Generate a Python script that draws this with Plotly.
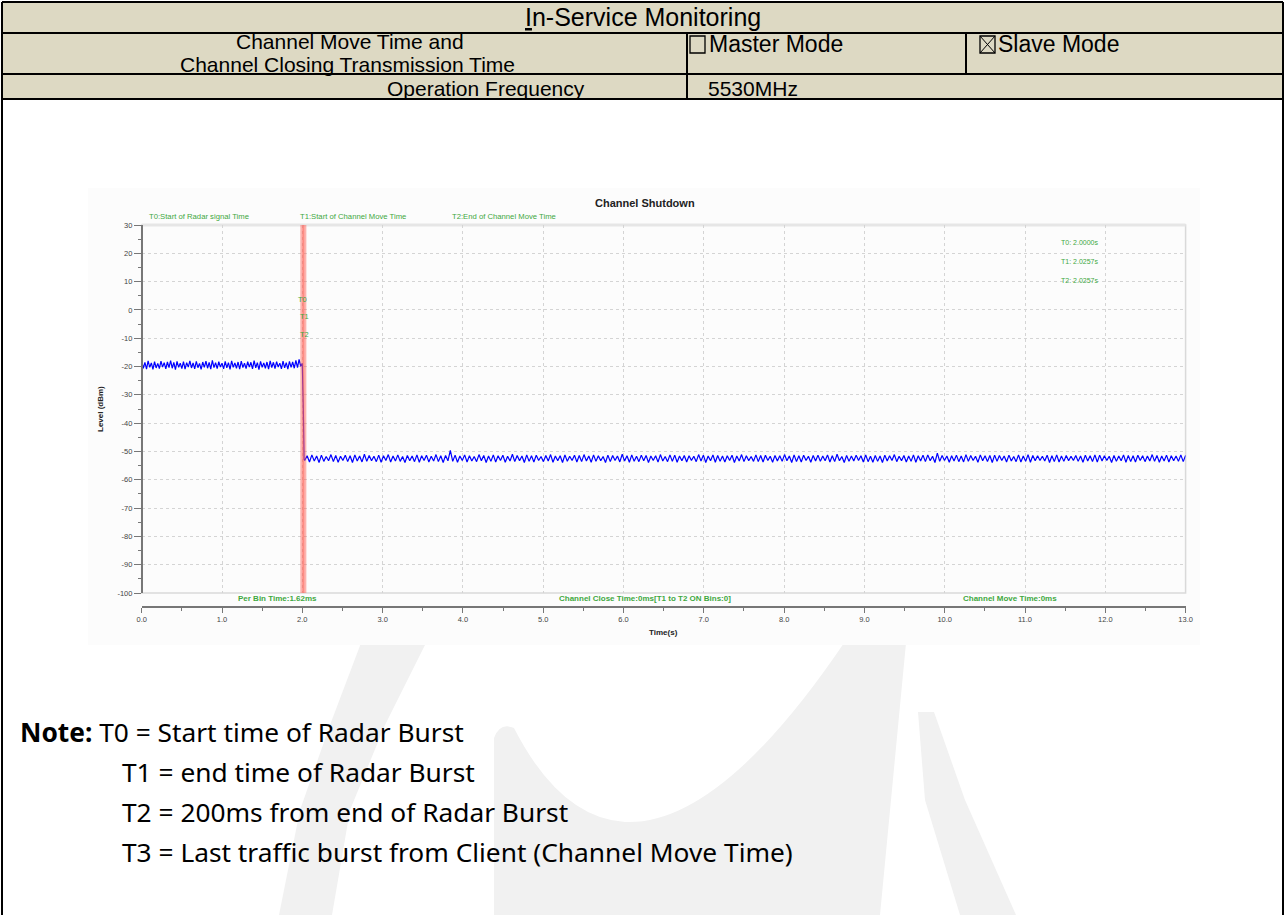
import plotly.graph_objects as go
import numpy as np

W, H = 1285, 915

# ---------------- data ----------------
pre_level = [
    -18.2, -20.6, -18.5, -20.9, -18.0, -20.3, -18.7, -21.0, -18.3, -20.5,
    -18.9, -20.7, -18.1, -20.2, -18.6, -20.8, -18.4, -20.4, -17.9, -20.6,
    -18.5, -21.1, -18.2, -20.3, -18.8, -20.7, -18.3, -20.9, -18.6, -20.2,
    -18.0, -20.5, -18.7, -20.8, -18.2, -20.4, -18.9, -21.0, -18.4, -20.3,
    -18.1, -20.6, -18.5, -20.9, -17.8, -20.4, -18.6, -20.7, -18.3, -20.2,
    -18.8, -20.8, -18.2, -20.5, -18.6, -21.0, -18.0, -20.3, -18.7, -20.6,
    -18.4, -20.9, -18.1, -20.4, -18.8, -20.7, -18.3, -20.2, -18.5, -20.8,
    -17.9, -20.5, -18.6, -21.1, -18.2, -20.3, -18.7, -20.6, -18.4, -20.9,
    -18.0, -20.4, -18.5, -20.7, -18.3, -20.2, -18.8, -20.8, -18.1, -20.5,
    -18.6, -20.9, -18.2, -20.3, -18.4, -20.6, -17.8, -20.4, -17.5, -19.9, -18.9,
]

transition_time = [2.000, 2.004, 2.012, 2.022, 2.030]
transition_level = [-18.9, -33.0, -33.6, -52.8, -53.0]

post_level = [
    -53.2, -51.5, -53.7, -51.2, -53.4, -51.6, -53.9, -51.3, -53.5, -51.8,
    -53.3, -51.1, -53.6, -51.4, -53.8, -51.7, -53.2, -51.3, -53.6, -51.5,
    -53.9, -51.2, -53.4, -51.6, -53.7, -51.0, -53.5, -51.4, -53.3, -51.7,
    -53.6, -51.3, -53.8, -51.5, -53.2, -51.1, -53.7, -51.6, -53.4, -51.2,
    -53.5, -51.8, -53.9, -51.4, -53.3, -51.6, -53.6, -51.2, -53.8, -51.5,
    -53.2, -51.3, -53.7, -51.7, -53.4, -51.1, -53.6, -51.5, -53.9, -51.4,
    -53.3, -49.6, -53.5, -51.3, -53.8, -51.6, -53.2, -51.2, -53.7, -51.5,
    -53.4, -51.8, -53.6, -51.1, -53.3, -51.4, -53.9, -51.6, -53.5, -51.2,
    -53.7, -51.5, -53.2, -51.3, -53.8, -51.7, -53.4, -51.0, -53.6, -51.4,
    -53.3, -51.6, -53.9, -51.2, -53.5, -51.5, -53.7, -51.3, -53.2, -51.8,
    -53.6, -51.4, -53.4, -51.1, -53.8, -51.6, -53.3, -51.5, -53.9, -51.2,
    -53.5, -51.7, -53.2, -51.3, -53.7, -51.4, -53.6, -51.1, -53.4, -51.6,
    -53.8, -51.2, -53.5, -51.5, -53.3, -51.8, -53.9, -51.3, -53.6, -51.4,
    -53.2, -51.6, -53.7, -51.0, -53.4, -51.5, -53.8, -51.2, -53.5, -51.7,
    -53.6, -51.3, -53.3, -51.4, -53.9, -51.6, -53.2, -51.5, -53.7, -51.1,
    -53.4, -51.8, -53.6, -51.2, -53.5, -51.3, -53.8, -51.6, -53.3, -51.4,
    -53.7, -51.5, -53.2, -51.7, -53.6, -51.1, -53.4, -51.3, -53.9, -51.6,
    -53.3, -51.2, -53.8, -51.4, -53.5, -51.6, -53.7, -51.5, -53.2, -51.3,
    -53.9, -51.6, -53.4, -51.1, -53.6, -51.5, -53.3, -51.8, -53.5, -51.2,
    -53.6, -51.4, -53.7, -51.3, -53.2, -51.7, -53.8, -51.4, -53.4, -51.5,
    -53.5, -51.1, -53.3, -51.6, -53.9, -51.2, -53.6, -51.5, -53.7, -51.3,
    -53.2, -51.7, -53.8, -51.4, -53.4, -51.3, -53.5, -51.6, -53.3, -51.2,
    -53.7, -51.5, -53.6, -51.0, -53.3, -51.8, -53.9, -51.4, -53.5, -51.6,
    -53.4, -51.3, -53.2, -51.5, -53.7, -51.2, -53.6, -51.7, -53.8, -51.4,
    -53.5, -51.6, -53.9, -51.3, -53.4, -51.5, -53.2, -51.1, -53.6, -51.7,
    -53.3, -51.4, -53.7, -51.6, -53.5, -51.2, -53.8, -51.5, -53.4, -51.3,
    -53.6, -51.2, -53.3, -51.7, -53.9, -50.6, -53.5, -51.4, -53.2, -51.6,
    -53.8, -51.5, -53.4, -51.3, -53.6, -51.6, -53.7, -51.1, -53.5, -51.4,
    -53.2, -51.7, -53.8, -51.2, -53.3, -51.5, -53.6, -51.4, -53.9, -51.3,
    -53.5, -51.4, -53.2, -51.6, -53.7, -51.3, -53.4, -51.8, -53.6, -51.2,
    -53.7, -51.6, -53.5, -51.1, -53.8, -51.4, -53.3, -51.5, -53.2, -51.7,
    -53.4, -51.3, -53.9, -51.5, -53.6, -51.2, -53.7, -51.6, -53.5, -51.4,
    -53.3, -51.7, -53.2, -51.4, -53.5, -51.6, -53.8, -51.3, -53.4, -51.5,
    -53.6, -51.2, -53.7, -51.3, -53.4, -51.5, -53.2, -51.7, -53.9, -51.4,
    -53.5, -51.6, -53.3, -51.2, -53.8, -51.4, -53.6, -51.5, -53.7, -51.3,
    -53.2, -51.5, -53.6, -51.6, -53.4, -51.1, -53.5, -51.4, -53.8, -51.6,
    -53.4, -51.3, -53.7, -51.5, -53.3, -51.6, -53.5, -51.2, -53.6, -51.4,
]

pre_start, pre_end = 0.0, 2.0
post_start, post_end = 2.03, 13.0

marker_names = ["T0", "T1", "T2"]
marker_times = [2.0000, 2.0257, 2.0257]
marker_label_levels = [3.8, -2.4, -8.6]

top_labels = ["T0:Start of Radar signal Time", "T1:Start of Channel Move Time", "T2:End of Channel Move Time"]
bottom_labels = ["Per Bin Time:1.62ms", "Channel Close Time:0ms[T1 to T2 ON Bins:0]", "Channel Move Time:0ms"]

x_ticks = list(range(0, 14))
x_tick_text = [f"{v:.1f}" for v in x_ticks]
y_ticks = list(range(-100, 31, 10))
y_tick_text = [str(v) for v in y_ticks]

table_title = "<u>I</u>n-Service Monitoring"
row2_lines = ["Channel Move Time and", "Channel Closing Transmission Time"]
mode_labels = ["Master Mode", "Slave Mode"]
freq_label = "Operation Frequency"
freq_value = "5530MHz"

note_lines = [
    "<b>Note:</b> T0 = Start time of Radar Burst",
    "T1 = end time of Radar Burst",
    "T2 = 200ms from end of Radar Burst",
    "T3 = Last traffic burst from Client (Channel Move Time)",
]

# ---------------- helpers ----------------
def fx(px):
    return px / W

def fy(py):
    return 1 - py / H

def poly(points, closed=True):
    s = "M " + " L ".join(f"{fx(a)},{fy(b)}" for a, b in points)
    return s + (" Z" if closed else "")

GREEN = "#3fa83f"
TAN = "#DDD9C3"
WM = "#f1f1f1"

pre_time = np.linspace(pre_start, pre_end, len(pre_level))
post_time = np.linspace(post_start, post_end, len(post_level))
time_all = list(pre_time) + transition_time + list(post_time)
level_all = pre_level + transition_level + post_level

fig = go.Figure()
fig.add_trace(go.Scatter(x=time_all, y=level_all, mode="lines",
                         line=dict(color="#0000ff", width=1.2), hoverinfo="skip",
                         showlegend=False))

shapes = []
ann = []

# watermark (behind everything)
shapes.append(dict(type="path", xref="paper", yref="paper", layer="below",
                   path=poly([(361, 643), (330, 725), (300, 810), (279, 915),
                              (332, 915), (350, 810), (385, 725), (426, 643)]),
                   fillcolor=WM, line=dict(width=0)))
v_path = ("M {},{} Q {},{} {},{} Q {},{} {},{} Q {},{} {},{} L {},{} L {},{} L {},{} Z").format(
    fx(494), fy(738), fx(500), fy(722), fx(514), fy(728),
    fx(560), fy(818), fx(625), fy(822),
    fx(720), fy(826), fx(844), fy(643),
    fx(906), fy(643), fx(880), fy(915), fx(494), fy(915))
shapes.append(dict(type="path", xref="paper", yref="paper", layer="below",
                   path=v_path, fillcolor=WM, line=dict(width=0)))
shapes.append(dict(type="path", xref="paper", yref="paper", layer="below",
                   path=poly([(918, 712), (934, 712), (965, 800), (1016, 915), (960, 915), (925, 800)]),
                   fillcolor=WM, line=dict(width=0)))

# chart image background
shapes.append(dict(type="rect", xref="paper", yref="paper", layer="below",
                   x0=fx(88), x1=fx(1200), y0=fy(645), y1=fy(188),
                   fillcolor="#fcfcfc", line=dict(width=0)))

# table
shapes.append(dict(type="rect", xref="paper", yref="paper", layer="below",
                   x0=fx(2), x1=fx(1283), y0=fy(99), y1=fy(2),
                   fillcolor=TAN, line=dict(width=0)))
for (x0, y0, x1, y1) in [(2, 2, 1283, 2), (2, 33, 1283, 33), (2, 74, 1283, 74), (2, 99, 1283, 99),
                         (2, 2, 2, 915), (1283, 2, 1283, 915), (687, 33, 687, 99), (966, 33, 966, 74)]:
    shapes.append(dict(type="line", xref="paper", yref="paper",
                       x0=fx(x0), x1=fx(x1), y0=fy(y0), y1=fy(y1),
                       line=dict(color="black", width=2)))
# check boxes
shapes.append(dict(type="rect", xref="paper", yref="paper", x0=fx(690), x1=fx(705), y0=fy(53), y1=fy(36),
                   line=dict(color="black", width=1.3)))
shapes.append(dict(type="rect", xref="paper", yref="paper", x0=fx(980), x1=fx(995), y0=fy(53), y1=fy(36),
                   line=dict(color="black", width=1.3)))
shapes.append(dict(type="line", xref="paper", yref="paper", x0=fx(980), x1=fx(995), y0=fy(53), y1=fy(36),
                   line=dict(color="black", width=1)))
shapes.append(dict(type="line", xref="paper", yref="paper", x0=fx(980), x1=fx(995), y0=fy(36), y1=fy(53),
                   line=dict(color="black", width=1)))

# plot frame
shapes.append(dict(type="rect", xref="x domain", yref="y domain", x0=0, x1=1, y0=0, y1=1,
                   line=dict(color="#d9d9d9", width=1.5), layer="below"))
shapes.append(dict(type="line", xref="x domain", yref="y domain", x0=0, x1=1, y0=1, y1=1,
                   line=dict(color="#e6e6e6", width=3), layer="below"))

# marker band (red)
for t in sorted(set(marker_times)):
    shapes.append(dict(type="line", xref="x", yref="y domain", x0=t, x1=t, y0=0, y1=1,
                       line=dict(color="rgba(255,90,80,0.45)", width=4), layer="above"))

# ---------------- annotations ----------------
TF = "Liberation Sans, Arial, sans-serif"
ann.append(dict(x=fx(643), y=fy(17), text=table_title, font=dict(family=TF, size=25, color="black")))
ann.append(dict(x=fx(350), y=fy(41.5), text=row2_lines[0], font=dict(family=TF, size=21, color="black")))
ann.append(dict(x=fx(347), y=fy(65), text=row2_lines[1], font=dict(family=TF, size=21, color="black")))
ann.append(dict(x=fx(707), y=fy(44), text=mode_labels[0], xanchor="left", font=dict(family=TF, size=23, color="black")))
ann.append(dict(x=fx(996), y=fy(44), text=mode_labels[1], xanchor="left", font=dict(family=TF, size=23, color="black")))
ann.append(dict(x=fx(486), y=fy(88), text=freq_label, font=dict(family=TF, size=21, color="black")))
ann.append(dict(x=fx(706), y=fy(88), text=freq_value, xanchor="left", font=dict(family=TF, size=21, color="black")))

NF = "Noto Sans, Open Sans, sans-serif"
note_pos = [(18, 732), (120, 772), (120, 812), (120, 852)]
for txt, (px, py) in zip(note_lines, note_pos):
    ann.append(dict(x=fx(px), y=fy(py), text=txt, xanchor="left", font=dict(family=NF, size=26.3, color="black")))

CF = "Liberation Sans, Arial, sans-serif"
ann.append(dict(x=fx(645), y=fy(203), text="<b>Channel Shutdown</b>", font=dict(family=CF, size=11, color="#222")))
for txt, px in zip(top_labels, [147, 298, 450]):
    ann.append(dict(x=fx(px), y=fy(217), text=txt, xanchor="left", font=dict(family=CF, size=7.7, color=GREEN)))
for txt, px in zip(bottom_labels, [277, 645, 1010]):
    ann.append(dict(x=fx(px), y=fy(598), text="<b>" + txt + "</b>", font=dict(family=CF, size=8, color=GREEN)))
for i, (n, t) in enumerate(zip(marker_names, marker_times)):
    ann.append(dict(x=fx(1100), y=fy(242 + 19 * i), text=f"{n}: {t:.4f}s", xanchor="right",
                    font=dict(family=CF, size=7, color=GREEN)))
for n, t, lv in zip(marker_names, marker_times, marker_label_levels):
    ann.append(dict(x=t, y=lv, xref="x", yref="y", text=n, font=dict(family=CF, size=7.5, color=GREEN)))
ann.append(dict(x=fx(663), y=fy(632), text="<b>Time(s)</b>", font=dict(family=CF, size=8, color="#222")))
ann.append(dict(x=fx(101), y=fy(409), text="<b>Level (dBm)</b>", textangle=-90, font=dict(family=CF, size=8, color="#222")))

for a in ann:
    a.setdefault("xref", "paper")
    a.setdefault("yref", "paper")
    a["showarrow"] = False
    a.setdefault("xanchor", "center")
    a.setdefault("yanchor", "middle")

fig.update_layout(
    width=W, height=H, autosize=False,
    margin=dict(l=0, r=0, t=0, b=0),
    paper_bgcolor="white", plot_bgcolor="white",
    showlegend=False,
    shapes=shapes, annotations=ann,
    xaxis=dict(domain=[fx(141.7), fx(1185.6)], range=[0, 13], anchor="free", position=fy(607),
               showline=True, linecolor="#777", linewidth=1.5, ticks="outside", ticklen=5, tickcolor="#777",
               tickvals=x_ticks, ticktext=x_tick_text, tickfont=dict(family=CF, size=7.5, color="#444"),
               minor=dict(dtick=0.5, ticks="outside", ticklen=3, tickcolor="#777", showgrid=False),
               showgrid=True, gridcolor="#d4d4d4", griddash="dot", gridwidth=1,
               zeroline=False, automargin=False, fixedrange=True),
    yaxis=dict(domain=[fy(593), fy(225)], range=[-100, 30], anchor="free", position=fx(141.7),
               showline=True, linecolor="#777", linewidth=1.5, ticks="outside", ticklen=7, tickcolor="#777",
               tickvals=y_ticks, ticktext=y_tick_text, tickfont=dict(family=CF, size=7.5, color="#444"),
               minor=dict(dtick=5, ticks="outside", ticklen=3, tickcolor="#777", showgrid=False),
               showgrid=True, gridcolor="#d4d4d4", griddash="dot", gridwidth=1,
               zeroline=False, automargin=False, fixedrange=True),
)

fig.write_html("out.html", config={"displayModeBar": False},
               post_script="document.body.style.margin='0px';document.body.style.overflow='hidden';")
